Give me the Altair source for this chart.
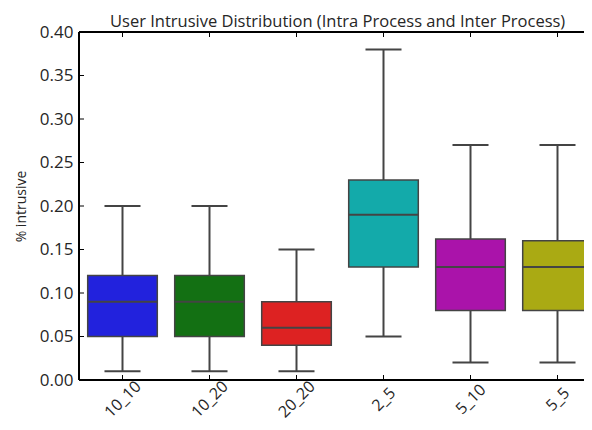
import json
import altair as alt
import pandas as pd

cats = ["10_10", "10_20", "20_20", "2_5", "5_10", "5_5"]
lower = [0.01, 0.01, 0.01, 0.05, 0.02, 0.02]
q1 = [0.05, 0.05, 0.04, 0.13, 0.08, 0.08]
median = [0.09, 0.09, 0.06, 0.19, 0.13, 0.13]
q3 = [0.12, 0.12, 0.09, 0.23, 0.162, 0.16]
upper = [0.20, 0.20, 0.15, 0.38, 0.27, 0.27]
colors = ["#2222dd", "#137013", "#dd2222", "#13aaaa", "#aa13aa", "#aaaa13"]
yticks = [0.0, 0.05, 0.10, 0.15, 0.20, 0.25, 0.30, 0.35, 0.40]

df = pd.DataFrame({"cat": cats, "idx": list(range(len(cats))), "lower": lower,
                   "q1": q1, "median": median, "q3": q3, "upper": upper})
tick_df = pd.DataFrame({"v": yticks})

W, H = 505, 348
FULL = 522  # full width of the original axes, partly cut off at the right
xmax = -0.5 + len(cats) * W / FULL
xscale = alt.Scale(domain=[-0.5, xmax], nice=False, zero=False)
yscale = alt.Scale(domain=[0, 0.4], nice=False, zero=True)
line_col = "#444444"
FONT = "Open Sans"
TXT = "#262626"

label_expr = json.dumps(cats) + "[datum.value]"
X = alt.X("idx:Q", scale=xscale, title=None,
          axis=alt.Axis(values=list(range(len(cats))), labelExpr=label_expr,
                        labelAngle=-45, labelAlign="center", labelBaseline="middle",
                        labelPadding=19, ticks=False, domain=False, grid=False,
                        labelFontSize=16, labelColor=TXT, labelFont=FONT, labelFlush=False,
                        labelOverlap=False))
Yaxis = alt.Axis(values=yticks, format=".2f", ticks=False, domain=False, grid=False,
                 labelFontSize=17, labelPadding=6, labelColor=TXT, labelFont=FONT,
                 title="% intrusive", titleFontSize=14, titleFontWeight="normal",
                 titleFont=FONT, titleColor=TXT, titleX=-58, titleY=H / 2,
                 titleAngle=-90, titleAlign="center", titleBaseline="middle")

base = alt.Chart(df).transform_calculate(
    bl="datum.idx - 0.4", br="datum.idx + 0.4",
    cl="datum.idx - 0.207", cr="datum.idx + 0.207")

whisk = base.mark_rule(color=line_col, strokeWidth=2).encode(
    x=X, y=alt.Y("lower:Q", scale=yscale, axis=Yaxis), y2="upper:Q")
caps_lo = base.mark_rule(color=line_col, strokeWidth=2).encode(
    x=alt.X("cl:Q", scale=xscale), x2="cr:Q", y=alt.Y("lower:Q", scale=yscale))
caps_hi = base.mark_rule(color=line_col, strokeWidth=2).encode(
    x=alt.X("cl:Q", scale=xscale), x2="cr:Q", y=alt.Y("upper:Q", scale=yscale))
boxes = base.mark_bar(stroke=line_col, strokeWidth=1.5, opacity=1).encode(
    x=alt.X("bl:Q", scale=xscale), x2="br:Q",
    y=alt.Y("q1:Q", scale=yscale), y2="q3:Q",
    color=alt.Color("cat:N", scale=alt.Scale(domain=cats, range=colors), legend=None))
meds = base.mark_rule(color=line_col, strokeWidth=2).encode(
    x=alt.X("bl:Q", scale=xscale), x2="br:Q", y=alt.Y("median:Q", scale=yscale))

ytk = alt.Chart(tick_df).mark_rule(color="black", strokeWidth=1).encode(
    y=alt.Y("v:Q", scale=yscale), x=alt.value(0), x2=alt.value(5))
xtk_b = base.mark_rule(color="black", strokeWidth=1).encode(
    x=alt.X("idx:Q", scale=xscale), y=alt.value(H), y2=alt.value(H - 5))
xtk_t = base.mark_rule(color="black", strokeWidth=1).encode(
    x=alt.X("idx:Q", scale=xscale), y=alt.value(0), y2=alt.value(5))

spine_l = base.mark_rule(color="black", strokeWidth=1.6).encode(
    x=alt.value(0), y=alt.value(0), y2=alt.value(H))
spine_b = base.mark_rule(color="black", strokeWidth=1.6).encode(
    y=alt.value(H), x=alt.value(0), x2=alt.value(W))
spine_t = base.mark_rule(color="black", strokeWidth=1.6).encode(
    y=alt.value(0), x=alt.value(0), x2=alt.value(W))

chart = alt.layer(whisk, caps_lo, caps_hi, boxes, meds, ytk, xtk_b, xtk_t,
                  spine_l, spine_b, spine_t).properties(
    width=W, height=H,
    autosize=alt.AutoSizeParams(type="none"),
    padding={"left": 71, "top": 24, "right": 0, "bottom": 42},
    title=alt.TitleParams("User Intrusive Distribution (Intra Process and Inter Process)",
                          fontSize=16.5, fontWeight="normal", font=FONT,
                          color=TXT, frame="group", anchor="start", offset=2, dx=31, dy=9),
).configure_view(stroke=None)

chart.save("out.html", embed_options={"renderer": "svg", "actions": False})
